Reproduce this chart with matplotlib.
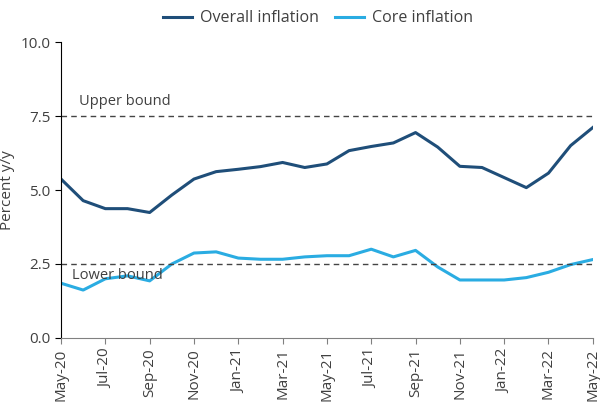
import matplotlib
matplotlib.use("Agg")
import matplotlib.pyplot as plt

months = ["May-20", "Jun-20", "Jul-20", "Aug-20", "Sep-20", "Oct-20", "Nov-20", "Dec-20",
          "Jan-21", "Feb-21", "Mar-21", "Apr-21", "May-21", "Jun-21", "Jul-21", "Aug-21",
          "Sep-21", "Oct-21", "Nov-21", "Dec-21", "Jan-22", "Feb-22", "Mar-22", "Apr-22", "May-22"]
overall = [5.37, 4.64, 4.37, 4.37, 4.24, 4.83, 5.37, 5.62, 5.70, 5.79, 5.93, 5.76, 5.88,
           6.33, 6.47, 6.59, 6.94, 6.45, 5.80, 5.76, 5.42, 5.08, 5.57, 6.50, 7.11]
core = [1.85, 1.62, 2.00, 2.10, 1.93, 2.50, 2.87, 2.91, 2.70, 2.66, 2.66, 2.74, 2.78,
        2.78, 3.00, 2.74, 2.96, 2.40, 1.96, 1.96, 1.96, 2.04, 2.22, 2.48, 2.65]
tick_labels = months[::2]
upper_bound = 7.5
lower_bound = 2.5

plt.rcParams['font.family'] = ['Open Sans', 'DejaVu Sans']
plt.rcParams['font.size'] = 11

fig = plt.figure(figsize=(6, 4.09), dpi=100)
ax = fig.add_axes([0.1017, 0.1736, 0.8863, 0.7237])

x = list(range(len(months)))
ax.plot(x, overall, color="#1f4e79", lw=2.2, label="Overall inflation")
ax.plot(x, core, color="#2aace2", lw=2.2, label="Core inflation")
ax.axhline(upper_bound, color="#444444", lw=1, ls=(0, (4, 3)))
ax.axhline(lower_bound, color="#444444", lw=1, ls=(0, (4, 3)))
ax.text(0.8, upper_bound + 0.25, "Upper bound", color="#404040", fontsize=10.5, va="bottom")
ax.text(0.5, lower_bound - 0.12, "Lower bound", color="#404040", fontsize=10.5, va="top")

ax.set_xlim(0, len(months) - 1)
ax.set_ylim(0, 10)
ax.set_yticks([0, 2.5, 5, 7.5, 10])
ax.set_yticklabels(["0.0", "2.5", "5.0", "7.5", "10.0"], color="#404040")
ax.set_xticks(x[::2])
ax.set_xticklabels(tick_labels, rotation=90, color="#404040")
ax.set_ylabel("Percent y/y", color="#404040")
ax.tick_params(axis="x", direction="out", length=4, color="#808080")
ax.tick_params(axis="y", direction="out", length=4)
for s in ["top", "right"]:
    ax.spines[s].set_visible(False)
ax.spines["bottom"].set_color("#808080")

fig.legend(loc="upper center", bbox_to_anchor=(0.53, 1.01), ncol=2, frameon=False,
           handlelength=1.8, columnspacing=1.0, handletextpad=0.5, fontsize=11.5,
           labelcolor="#404040")

fig.savefig("out.png", dpi=100)
